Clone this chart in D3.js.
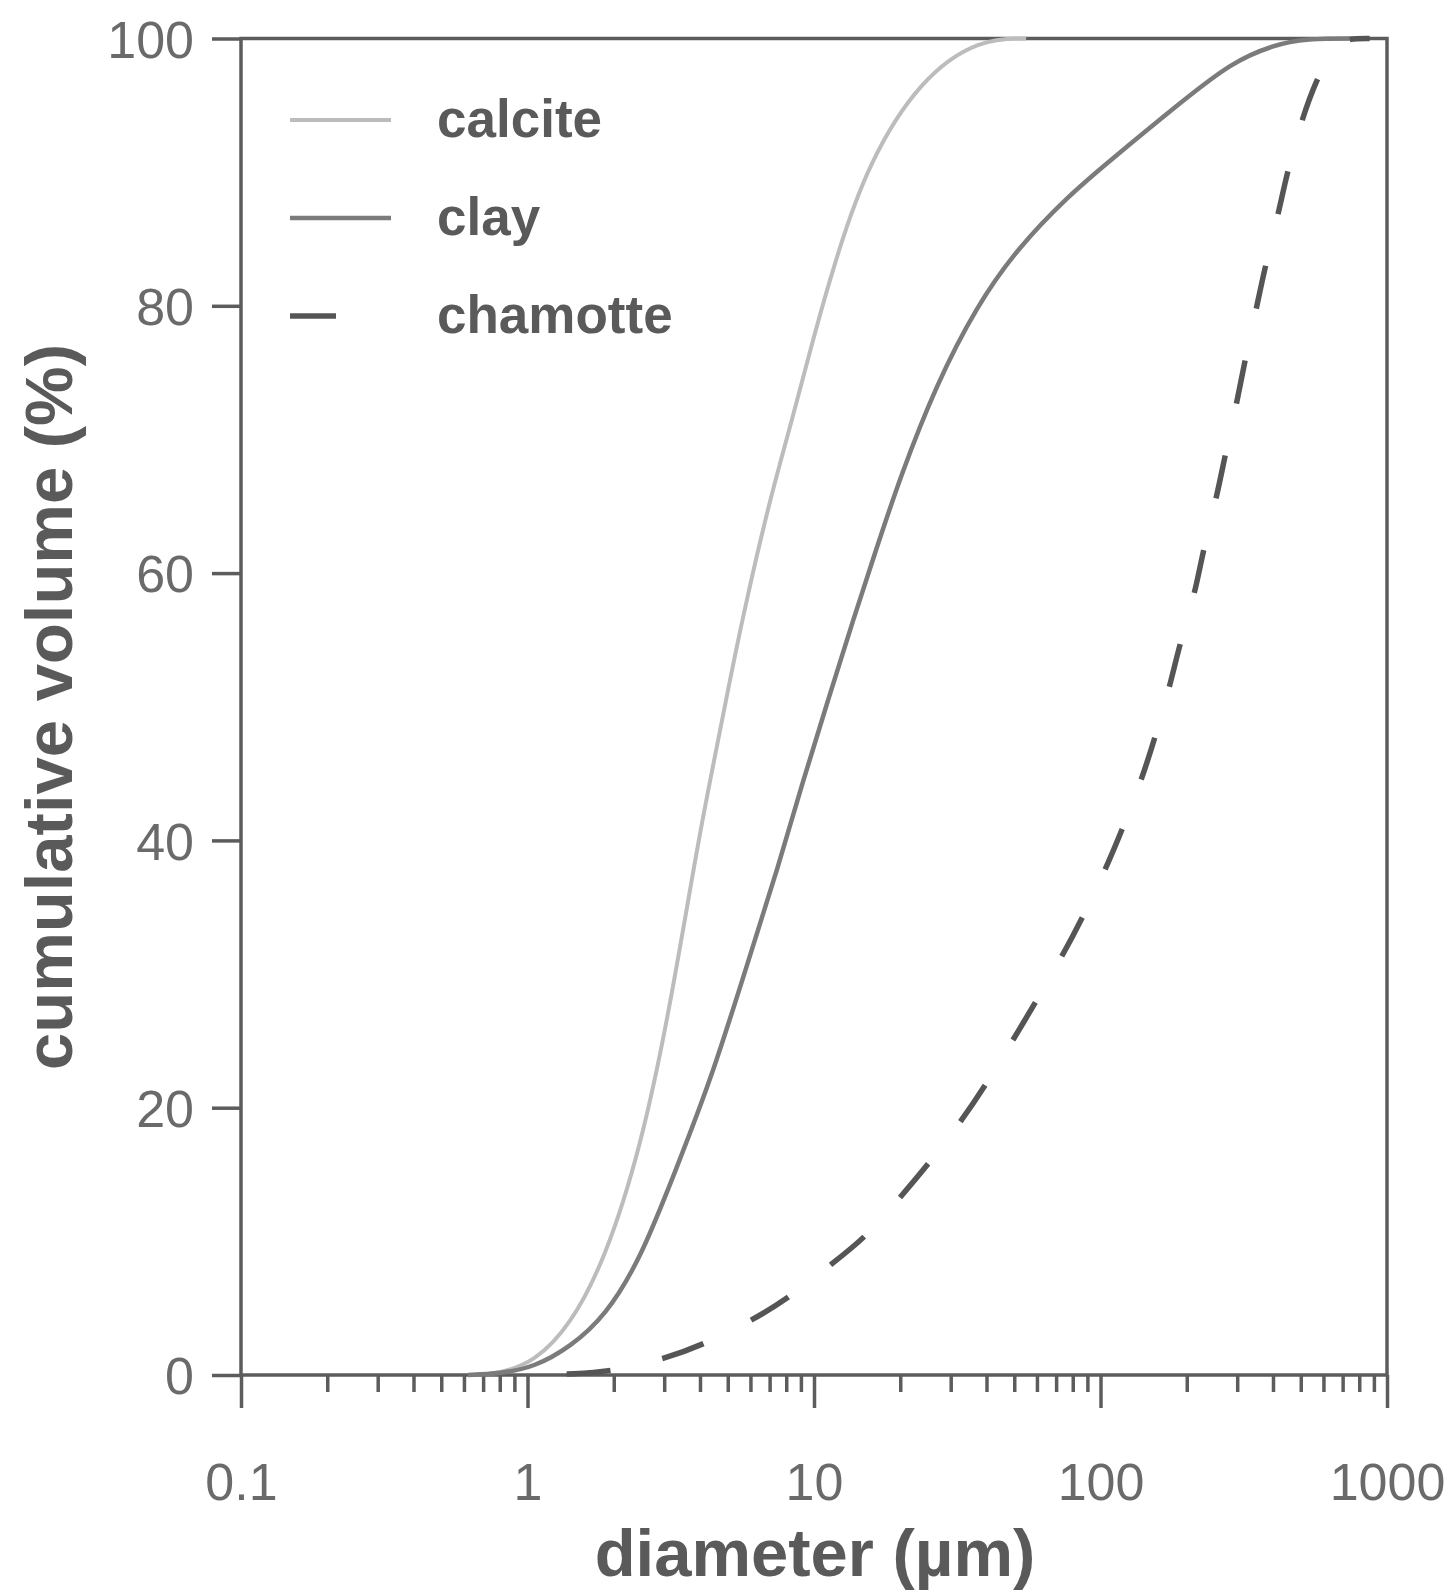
<!DOCTYPE html>
<html>
<head>
    <title>Cumulative volume</title>
    <script src="https://cdnjs.cloudflare.com/ajax/libs/d3/7.8.5/d3.min.js"></script>
    <style>
        body {
            margin: 0;
            background-color: white;
        }

        .axis path,
        .axis line {
            stroke: #5c5c5c;
            stroke-width: 3.5px;
        }

        .axis text {
            font-family: "Liberation Sans", Arial, sans-serif;
            font-size: 52px;
            fill: #6a6a6a;
        }

        .title {
            font-family: "Liberation Sans", Arial, sans-serif;
            font-weight: bold;
            font-size: 67px;
            fill: #5a5a5a;
        }

        .legend text {
            font-family: "Liberation Sans", Arial, sans-serif;
            font-weight: bold;
            font-size: 53px;
            fill: #5a5a5a;
        }
    </style>
</head>

<body>
    <div id="chart"></div>

    <script>
        // diameter (µm) and cumulative volume (%)
        const calciteD = [0.62, 0.8, 1.06, 1.41, 1.87, 2.49, 3.12, 3.91, 4.34, 4.93, 5.61, 7.0, 8.4, 10.0, 12.1, 15.4, 23.5, 38, 55];
        const calciteV = [0, 0.1, 1.0, 3.7, 8.7, 17.1, 27.1, 39.5, 44.5, 50.5, 56.5, 65.5, 71.5, 77.8, 84, 90.6, 97, 100, 100];

        const clayD = [0.62, 0.8, 1.06, 1.41, 1.87, 2.49, 3.30, 4.37, 5.80, 7.5, 9.16, 11.2, 13.7, 16.5, 20, 26.7, 37, 51.3, 77, 107, 190, 286, 400, 520, 800];
        const clayV = [0, 0.1, 0.6, 2.1, 4.4, 8.75, 15.4, 22.1, 30.5, 38, 44.5, 50.5, 56.5, 61.8, 67.2, 74.1, 80, 84.3, 88.2, 90.8, 95.2, 98.2, 99.5, 100, 100];

        const chamotteD = [1.37, 1.92, 2.94, 4.08, 6.07, 8.17, 11.4, 15.0, 20, 25.1, 32.4, 39.5, 49.6, 59, 73.3, 86, 104, 119, 139, 155, 175, 189, 214, 228, 254, 272, 299, 319, 351, 375, 418, 447, 505, 569, 650, 720, 870];
        const chamotteV = [0.07, 0.22, 1.14, 2.24, 4.08, 5.76, 8.25, 10.2, 13.3, 15.8, 18.9, 21.6, 25.1, 27.8, 31.3, 34.1, 37.8, 40.8, 44.5, 47.7, 51.6, 54.7, 58.5, 61.7, 65.6, 68.8, 72.7, 75.9, 79.9, 82.9, 86.9, 89.9, 94, 97, 99.3, 100, 100];

        const seriesNames = ["calcite", "clay", "chamotte"];
        const xMajor = [0.1, 1, 10, 100, 1000];
        const yTicks = [0, 20, 40, 60, 80, 100];

        const width = 1453, height = 1594;
        const margin = { left: 241, right: 66, top: 38.5, bottom: 219 };

        const svg = d3.select("#chart").append("svg")
            .attr("width", width)
            .attr("height", height);

        const x = d3.scaleLog()
            .domain([0.1, 1000])
            .range([margin.left, width - margin.right]);

        const y = d3.scaleLinear()
            .domain([0, 100])
            .range([height - margin.bottom, margin.top]);

        const xMinor = x.ticks().filter(d => !xMajor.includes(d));

        // minor ticks on x
        svg.append("g")
            .attr("class", "axis")
            .attr("transform", `translate(0,${y(0)})`)
            .call(d3.axisBottom(x).tickValues(xMinor).tickSize(17).tickFormat(""))
            .call(g => g.select(".domain").remove());

        // major ticks on x
        svg.append("g")
            .attr("class", "axis")
            .attr("transform", `translate(0,${y(0)})`)
            .call(d3.axisBottom(x).tickValues(xMajor).tickSize(33).tickPadding(55)
                .tickFormat(d => d3.format("")(d)))
            .call(g => g.select(".domain").remove());

        svg.append("g")
            .attr("class", "axis")
            .attr("transform", `translate(${x(0.1)},0)`)
            .call(d3.axisLeft(y).tickValues(yTicks).tickSize(29).tickPadding(18))
            .call(g => g.select(".domain").remove())
            .call(g => g.selectAll("text").attr("dy", "0.36em"));

        // frame
        svg.append("rect")
            .attr("x", x(0.1))
            .attr("y", y(100))
            .attr("width", x(1000) - x(0.1))
            .attr("height", y(0) - y(100))
            .attr("fill", "none")
            .attr("stroke", "#5c5c5c")
            .attr("stroke-width", 3.5);

        // smooth the read-off points a little
        const line = d3.line()
            .x(d => x(d[0]))
            .y(d => y(d[1]))
            .curve(d3.curveBasis);

        const series = [
            { name: seriesNames[0], d: calciteD, v: calciteV, color: "#bcbcbc", w: 4, dash: null },
            { name: seriesNames[1], d: clayD, v: clayV, color: "#7b7b7b", w: 4.5, dash: null },
            { name: seriesNames[2], d: chamotteD, v: chamotteV, color: "#555555", w: 5.5, dash: "44 53" }
        ];

        series.forEach(s => {
            svg.append("path")
                .datum(s.d.map((d, i) => [d, s.v[i]]))
                .attr("fill", "none")
                .attr("stroke", s.color)
                .attr("stroke-width", s.w)
                .attr("stroke-dasharray", s.dash)
                .attr("d", line);
        });

        // legend
        const legend = svg.append("g").attr("class", "legend");
        series.forEach((s, i) => {
            const ly = 120 + i * 98;
            legend.append("line")
                .attr("x1", 290)
                .attr("x2", s.dash ? 336 : 391)
                .attr("y1", ly)
                .attr("y2", ly)
                .attr("stroke", s.color)
                .attr("stroke-width", s.w);
            legend.append("text")
                .attr("x", 437)
                .attr("y", ly + 17)
                .text(s.name);
        });

        svg.append("text")
            .attr("class", "title")
            .attr("text-anchor", "middle")
            .attr("x", 815)
            .attr("y", 1576)
            .text("diameter (µm)");

        svg.append("text")
            .attr("class", "title")
            .attr("text-anchor", "middle")
            .attr("transform", "translate(72,707) rotate(-90)")
            .text("cumulative volume (%)");
    </script>
</body>
</html>
